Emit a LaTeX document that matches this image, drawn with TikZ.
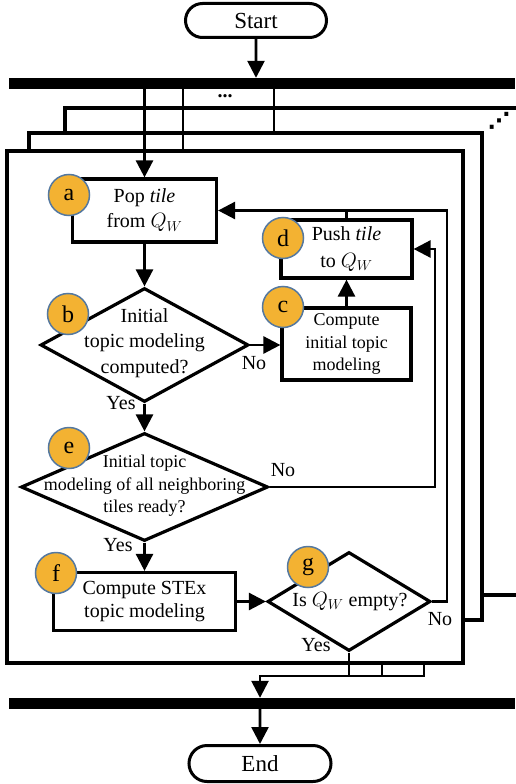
\documentclass[tikz,border=0pt]{standalone}
\usepackage{fontspec}
\setmainfont{Liberation Serif}
\newfontfamily\symfont{DejaVu Sans}
\usepackage{xcolor}
\usetikzlibrary{shapes.geometric,shapes.misc,arrows.meta}
\definecolor{badgefill}{RGB}{243,178,50}
\definecolor{badgerim}{RGB}{84,120,160}
\tikzstyle{terminal}=[rounded rectangle, draw, line width=3pt, inner sep=0pt, font=\fontsize{23}{23}\selectfont]
\tikzstyle{process}=[rectangle, draw, fill=white, line width=3.2pt, inner sep=0pt, align=center, font=\fontsize{20}{25}\selectfont]
\tikzstyle{decision}=[diamond, draw, fill=white, line width=3.2pt, inner sep=0pt]
\tikzstyle{frame}=[rectangle, draw, fill=white, line width=3.5pt, inner sep=0pt]
\tikzstyle{bar}=[rectangle, fill=black, inner sep=0pt, minimum width=506pt, minimum height=11pt]
\tikzset{badge/.style={circle, fill=badgefill, draw=badgerim, line width=1.5pt, minimum size=41pt, inner sep=0pt, font=\fontsize{24}{24}\selectfont}}
\tikzset{flow/.style={-{Triangle[length=17pt,width=17pt]}, line width=2.6pt}}
\tikzset{wire/.style={line width=2.4pt}}
\tikzset{answer/.style={inner sep=0pt, font=\fontsize{20}{20}\selectfont}}
\tikzset{more/.style={inner sep=0pt, font=\bfseries\fontsize{20}{20}\selectfont}}

\begin{document}
\begin{tikzpicture}[x=1pt,y=-1pt]
  \useasboundingbox (0,0) rectangle (515,784);
  %% Stacked workers
  \draw (302.5,351.5) node[frame,minimum width=475pt,minimum height=487pt] (back) {};
  \draw (255.5,376.5) node[frame,minimum width=453pt,minimum height=487pt] (middle) {};
  \draw (235,407) node[frame,minimum width=456pt,minimum height=512pt] (front) {};

  \draw (256,20.5) node[terminal,minimum width=141pt,minimum height=34pt] (start) {Start};
  \draw (262,83.5) node[bar] (fork) {};
  \draw (262,703.5) node[bar] (join) {};
  \draw (260,763.5) node[terminal,minimum width=142pt,minimum height=36pt] (end) {End};

  \draw (225,96) node[more] (moreA) {...};
  \draw (499,121) node[inner sep=0pt,font=\symfont\bfseries\fontsize{22}{22}\selectfont] (moreB) {⋰};

  \draw (144.5,210.5) node[process,minimum width=144pt,minimum height=63pt] (pop) {Pop \textit{tile}\\from $Q_W$};
  \draw (346.5,249) node[process,minimum width=131pt,minimum height=58pt,font=\fontsize{20}{27}\selectfont] (push) {Push \textit{tile}\\to $Q_W$};
  \draw (346.5,344) node[process,minimum width=129pt,minimum height=72pt,font=\fontsize{18}{22.5}\selectfont] (compute) {Compute\\initial topic\\modeling};
  \draw (144.5,601.5) node[process,minimum width=182pt,minimum height=58pt,font=\fontsize{20}{23}\selectfont] (stex) {Compute STEx\\topic modeling};

  \draw (144.5,345) node[decision,minimum width=208pt,minimum height=114pt] (check) {};
  \draw (144.5,343) node[align=center,inner sep=0pt,font=\fontsize{20}{25.5}\selectfont] (checktext) {Initial\\topic modeling\\computed?};
  \draw (144.5,487) node[decision,minimum width=247pt,minimum height=108pt] (ready) {};
  \draw (144.5,486) node[align=center,inner sep=0pt,font=\fontsize{18}{22.5}\selectfont] (readytext) {Initial topic\\modeling of all neighboring\\tiles ready?};
  \draw (349,601.5) node[decision,minimum width=163pt,minimum height=99pt] (empty) {};
  \draw (350,601.5) node[inner sep=0pt,font=\fontsize{20}{20}\selectfont] (emptytext) {Is $Q_W$ empty?};

  %% Badges
  \draw (69,195) node[badge] (tagA) {a};
  \draw (68,314) node[badge] (tagB) {b};
  \draw (283,307) node[badge] (tagC) {c};
  \draw (283,238) node[badge] (tagD) {d};
  \draw (69,448) node[badge] (tagE) {e};
  \draw (56,573) node[badge] (tagF) {f};
  \draw (308,567) node[badge] (tagG) {g};

  %% Answers
  \draw (254,363) node[answer] (noB) {No};
  \draw (121,403) node[answer] (yesB) {Yes};
  \draw (283,470) node[answer] (noE) {No};
  \draw (118,545) node[answer] (yesE) {Yes};
  \draw (440,619) node[answer] (noG) {No};
  \draw (316,645) node[answer] (yesG) {Yes};

  %% Taps
  \coordinate (tapB) at (183,0);
  \coordinate (tapC) at (274,0);
  \coordinate (tapD) at (382,0);
  \coordinate (tapE) at (424,0);
  \coordinate (retD) at (435,0);
  \coordinate (retA) at (447,0);
  \coordinate (merge) at (260,676);

  \draw[flow] (start) -- (start |- fork.north);
  \draw[flow] (pop |- fork.south) -- (pop);
  \draw[wire] (tapB |- fork.south) -- (tapB |- front.north);
  \draw[wire] (tapC |- fork.south) -- (tapC |- middle.north);

  \draw[flow] (pop) -- (check);
  \draw[flow] (check.east) -- (compute.west |- check.east);
  \draw[flow] (compute) -- (push);
  \draw[wire] (push.north) -- (push.north |- pop.east);
  \draw[flow] (check) -- (ready);
  \draw[flow] (ready.east) -| (retD |- push.east) -- (push.east);
  \draw[flow] (ready) -- (stex);
  \draw[flow] (stex.east) -- (empty.west);
  \draw[flow] (empty.east) -| (retA |- pop.east) -- (pop.east);

  %% Gather
  \draw[flow] (empty.south) |- (merge) -- (merge |- join.north);
  \draw[wire] (tapD |- front.south) -- (tapD |- merge);
  \draw[wire] (tapE |- front.south) |- (empty.south |- merge);
  \draw[flow] (end |- join.south) -- (end);
\end{tikzpicture}
\end{document}
